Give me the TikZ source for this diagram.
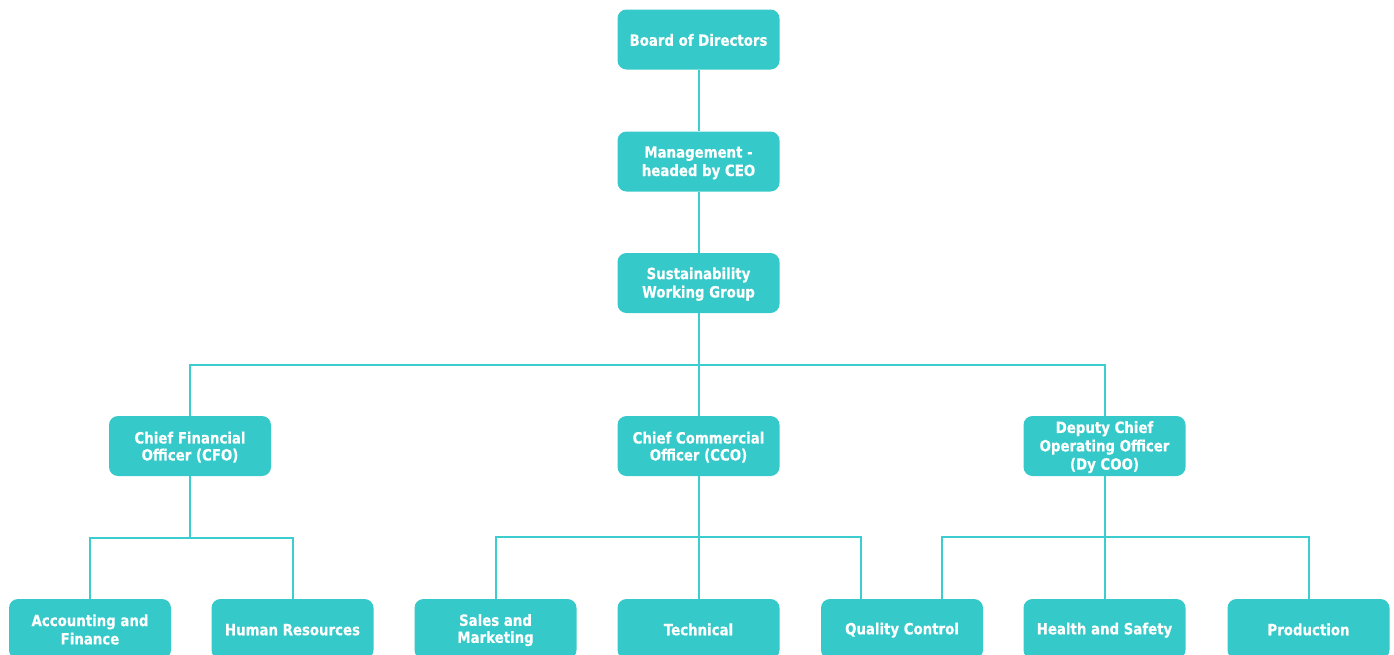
\documentclass[tikz,border=0pt]{standalone}
\usepackage{fontspec}
\setmainfont{DejaVu Sans}[FakeStretch=0.86, BoldFeatures={FakeBold=0.4}]
\usetikzlibrary{calc}
\definecolor{tealfill}{HTML}{35C9C9}
\definecolor{tealline}{HTML}{3CCECE}
\newcommand\bstrut{\rule[-1.5pt]{0pt}{15.5pt}}
\tikzset{
  box/.style={rectangle, rounded corners=9pt, fill=tealfill, text=white,
    font=\bfseries\fontsize{15.5}{17}\selectfont, align=center,
    minimum width=162pt, minimum height=60pt, inner xsep=2pt, inner ysep=0pt},
  conn/.style={draw=tealline, line width=2pt}
}
\begin{document}
\begin{tikzpicture}[x=1pt,y=-1pt]
\useasboundingbox (0,0) rectangle (1394,654);
% nodes
\node[box] (bod) at (698.5,39.5) {Board of Directors\bstrut};
\node[box] (mgmt) at (698.5,161.5) {Management -\bstrut\\headed by CEO\bstrut};
\node[box] (swg) at (698.5,283) {Sustainability\bstrut\\Working Group\bstrut};
\node[box] (cfo) at (190,446) {Chief Financial\bstrut\\Officer (CFO)\bstrut};
\node[box] (cco) at (698.5,446) {Chief Commercial\bstrut\\Officer (CCO)\bstrut};
\node[box] (dcoo) at (1104.5,446) {Deputy Chief\bstrut\\Operating Officer\bstrut\\(Dy COO)\bstrut};
\node[box] (acc) at (90,629) {Accounting and\bstrut\\Finance\bstrut};
\node[box] (hr) at (292.5,629) {Human Resources\bstrut};
\node[box] (sales) at (495.5,629) {Sales and\bstrut\\Marketing\bstrut};
\node[box] (tech) at (698.5,629) {Technical\bstrut};
\node[box] (qc) at (902,629) {Quality Control\bstrut};
\node[box] (hs) at (1104.5,629) {Health and Safety\bstrut};
\node[box] (prod) at (1308.5,629) {Production\bstrut};
% bus points
\coordinate (b1) at (698.5,365);
\coordinate (b2) at (190,538);
\coordinate (b3) at (698.5,537);
\coordinate (b4) at (1104.5,537);
% connectors
\draw[conn] (bod) -- (mgmt);
\draw[conn] (mgmt) -- (swg);
\draw[conn] (swg.south) -- (b1) -| (cfo.north);
\draw[conn] (b1) -| (dcoo.north);
\draw[conn] (b1) -- (cco.north);
\draw[conn] (cfo.south) -- (b2) -| (acc.north);
\draw[conn] (b2) -| (hr.north);
\draw[conn] (cco.south) -- (b3) -| (sales.north);
\draw[conn] (b3) -- (tech.north);
\draw[conn] (b3) -| ([xshift=-41pt]qc.north);
\draw[conn] (dcoo.south) -- (b4) -| ([xshift=40pt]qc.north);
\draw[conn] (b4) -- (hs.north);
\draw[conn] (b4) -| (prod.north);
\end{tikzpicture}
\end{document}
